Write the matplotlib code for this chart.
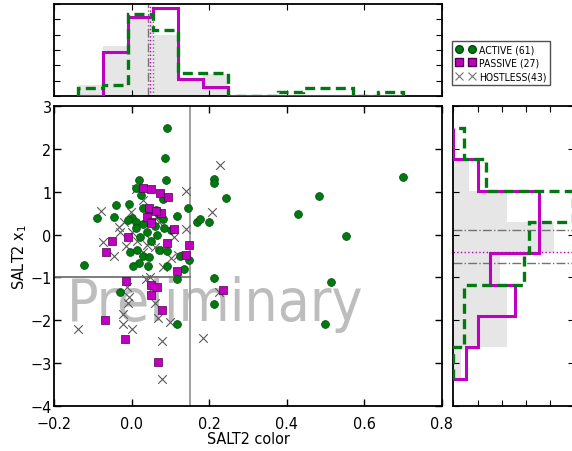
import numpy as np
import matplotlib
matplotlib.use("Agg")
import matplotlib.pyplot as plt
from matplotlib.lines import Line2D
from matplotlib import font_manager as fm

# pick a narrow sans face if one is installed
_fonts = fm.fontManager.ttflist
if any(f.name == 'Liberation Sans Narrow' for f in _fonts):
    plt.rcParams['font.family'] = ['Liberation Sans Narrow', 'DejaVu Sans']
elif any(f.name == 'DejaVu Sans' and f.stretch == 'condensed' for f in _fonts):
    plt.rcParams['font.family'] = ['DejaVu Sans']
    plt.rcParams['font.stretch'] = 'condensed'
else:
    plt.rcParams['font.family'] = ['Liberation Sans', 'DejaVu Sans']
plt.rcParams['xtick.direction'] = 'in'
plt.rcParams['ytick.direction'] = 'in'
plt.rcParams['axes.linewidth'] = 1.3

# SALT2 colour (c) and stretch (x1) for each host class
active_c = [0.4285, 0.483, 0.552, 0.515, 0.500, 0.700,
            0.090, 0.087, 0.019, 0.089, 0.213, 0.213, 0.243,
            -0.1225, -0.090, -0.040, -0.045, -0.006, 0.146, 0.125, 0.168, 0.176, 0.200,
            0.213, 0.213, -0.030, 0.116, 0.116, 0.149, 0.135, 0.092, 0.041, 0.019, 0.004,
            0.030, 0.045, 0.012, 0.023, 0.080, 0.062, 0.000, 0.012, -0.010, 0.045, 0.070,
            0.030, 0.080, 0.011, 0.084, 0.040, 0.060, 0.020, 0.050, 0.100, -0.005, 0.014,
            0.070, 0.090, 0.030, 0.065, 0.116]
active_x1 = [0.48, 0.89, -0.03, -1.11, -2.09, 1.33,
             2.48, 1.77, 1.27, 1.26, 1.30, 1.20, 0.86,
             -0.70, 0.38, 0.68, 0.40, 0.70, 0.62, -0.50, 0.30, 0.37, 0.30,
             -1.01, -1.61, -1.33, -2.08, -1.03, -0.59, -0.80, -0.73, -0.74, -0.66, -0.74,
             -0.50, -0.52, 1.08, 0.92, 0.82, 0.58, 0.38, 0.30, 0.34, 0.55, 0.45,
             0.62, 0.35, 0.15, 0.16, 0.05, 0.20, -0.05, -0.15, 0.10, -0.40, -0.37,
             -0.37, -0.38, 0.25, 0.00, 0.43]

passive_c = [0.030, 0.049, 0.073, 0.093, 0.045, 0.075, 0.040, 0.050, 0.050,
             0.109, -0.009, -0.050, -0.067, 0.092, 0.147, 0.139, 0.117, -0.016,
             0.049, 0.066, 0.050, 0.079, 0.236, -0.069, -0.017, 0.067, 0.062]
passive_x1 = [1.09, 1.06, 0.96, 0.88, 0.61, 0.50, 0.40, 0.30, 0.27,
              0.12, -0.06, -0.16, -0.41, -0.20, -0.24, -0.47, -0.85, -1.08,
              -1.18, -1.22, -1.42, -1.75, -1.29, -2.00, -2.43, -2.97, 0.55]

hostless_c = [0.228, 0.140, 0.010, -0.079, 0.206, 0.139, -0.032, -0.002, 0.030,
              -0.073, -0.015, 0.014, -0.045, 0.050, 0.060, 0.120, -0.020, 0.070,
              0.030, 0.100, 0.000, 0.037, 0.047, -0.013, -0.008, -0.010, -0.022,
              -0.022, 0.000, -0.140, 0.069, 0.099, 0.060, 0.077, 0.077, 0.185,
              0.224, 0.050, 0.085, 0.040, -0.030, 0.110, 0.080]
hostless_x1 = [1.63, 1.01, 1.06, 0.54, 0.53, 0.12, 0.17, 0.52, 0.80,
               -0.18, -0.26, -0.16, -0.51, -0.12, -0.30, -0.47, 0.30, 0.30,
               -0.40, -0.55, 0.05, -1.03, -1.00, -1.22, -1.46, -1.60, -1.84,
               -2.09, -2.20, -2.20, -1.94, -2.04, -1.60, -2.49, -3.36, -2.41,
               -1.34, -1.26, -0.35, -0.25, 0.05, -0.05, -0.75]

# sample averages marked on the marginal histograms
mean_c = {'active': 0.054, 'passive': 0.047, 'hostless': 0.041}
mean_x1 = {'active': 0.116, 'passive': -0.40, 'hostless': -0.67}

# selection cuts
c_cut = 0.15
x1_cut = -1.0

n_cbins = 13
n_x1bins = 8

green = '#007a10'
magenta = '#c000c0'
hostgray = '0.35'

fig = plt.figure(figsize=(5.72, 4.52), dpi=100)
ax = fig.add_axes([0.0949, 0.0989, 0.6773, 0.6651])
axt = fig.add_axes([0.0949, 0.7847, 0.6773, 0.2049], sharex=ax)
axr = fig.add_axes([0.7925, 0.0989, 0.2115, 0.6651], sharey=ax)

# scatter
ax.scatter(hostless_c, hostless_x1, marker='x', s=38, c=hostgray, linewidths=0.8, zorder=3)
ax.scatter(active_c, active_x1, marker='o', s=32, c=green, edgecolors='#004a08',
           linewidths=0.5, zorder=4)
ax.scatter(passive_c, passive_x1, marker='s', s=28, c=magenta, edgecolors='#500050',
           linewidths=0.5, zorder=5)

ax.axvline(c_cut, color='0.6', lw=1.3, zorder=2)
ax.plot([-0.2, c_cut], [x1_cut, x1_cut], color='0.45', lw=1.3, zorder=2)

ax.text(0.215, -2.0, 'Preliminary', fontsize=42, color='0.74', ha='center',
        va='baseline', zorder=1)

ax.set_xlim(-0.2, 0.8)
ax.set_ylim(-4, 3)
ax.set_xticks(np.arange(-0.2, 0.81, 0.2))
ax.set_yticks(np.arange(-4, 4, 1))
ax.tick_params(which='both', top=True, right=True, length=5, labelsize=11.5, width=1)
ax.tick_params(axis='x', pad=7)
ax.tick_params(axis='y', pad=2)
ax.set_xlabel('SALT2 color', fontsize=11.5, labelpad=0)
ax.set_ylabel('SALT2 x$_1$', fontsize=11.5, labelpad=1)

# marginal histograms share bin edges computed on the full sample
all_c = np.concatenate([active_c, passive_c, hostless_c])
all_x1 = np.concatenate([active_x1, passive_x1, hostless_x1])
cedges = np.histogram_bin_edges(all_c, bins=n_cbins)
x1edges = np.histogram_bin_edges(all_x1, bins=n_x1bins)

axt.hist(hostless_c, bins=cedges, density=True, histtype='stepfilled', color='0.9', zorder=1)
axt.hist(passive_c, bins=cedges, density=True, histtype='step', color=magenta, lw=2.2, zorder=3)
axt.hist(active_c, bins=cedges, density=True, histtype='step', color=green, lw=2.4,
         ls=(0, (3.0, 1.6)), zorder=4)
axt.axvline(mean_c['hostless'], color='0.45', lw=1, ls='-.', zorder=2)
axt.axvline(mean_c['passive'], color=magenta, lw=1, ls=':', zorder=2)
axt.axvline(mean_c['active'], color='0.45', lw=1, ls=':', zorder=2)
axt.set_ylim(0, 6)
axt.set_yticks(np.arange(0, 7, 1))
axt.tick_params(which='both', top=True, right=True, length=4, labelbottom=False,
                labelleft=False)

axr.hist(hostless_x1, bins=x1edges, density=True, histtype='stepfilled', color='0.9',
         orientation='horizontal', zorder=1)
axr.hist(passive_x1, bins=x1edges, density=True, histtype='step', color=magenta, lw=2.2,
         orientation='horizontal', zorder=3)
axr.hist(active_x1, bins=x1edges, density=True, histtype='step', color=green, lw=2.4,
         ls=(0, (3.0, 1.6)), orientation='horizontal', zorder=4)
axr.axhline(mean_x1['active'], color='0.45', lw=1, ls='-.', zorder=2)
axr.axhline(mean_x1['passive'], color=magenta, lw=1, ls=':', zorder=2)
axr.axhline(mean_x1['hostless'], color='0.45', lw=1, ls='-.', zorder=2)
axr.set_xlim(0, 0.5)
axr.set_xticks(np.arange(0, 0.51, 0.1))
axr.tick_params(which='both', top=True, right=True, length=4, labelbottom=False,
                labelleft=False)

handles = [
    Line2D([], [], ls='none', marker='o', ms=5.5, color=green, mec='#004a08'),
    Line2D([], [], ls='none', marker='s', ms=5.5, color=magenta, mec='#500050'),
    Line2D([], [], ls='none', marker='x', ms=5.5, color='0.45', mew=0.8),
]
labels = [f'ACTIVE ({len(active_c)})', f'PASSIVE ({len(passive_c)})',
          f'HOSTLESS({len(hostless_c)})']
leg = fig.legend(handles, labels, loc='upper left', bbox_to_anchor=(0.790, 0.908),
                 numpoints=2, fontsize=7.5, frameon=True, fancybox=False,
                 edgecolor='0.15', borderpad=0.35, handlelength=1.9,
                 handletextpad=0.35, labelspacing=0.35, borderaxespad=0.0)
leg.get_frame().set_linewidth(1.0)

fig.savefig('out.png', dpi=100)
